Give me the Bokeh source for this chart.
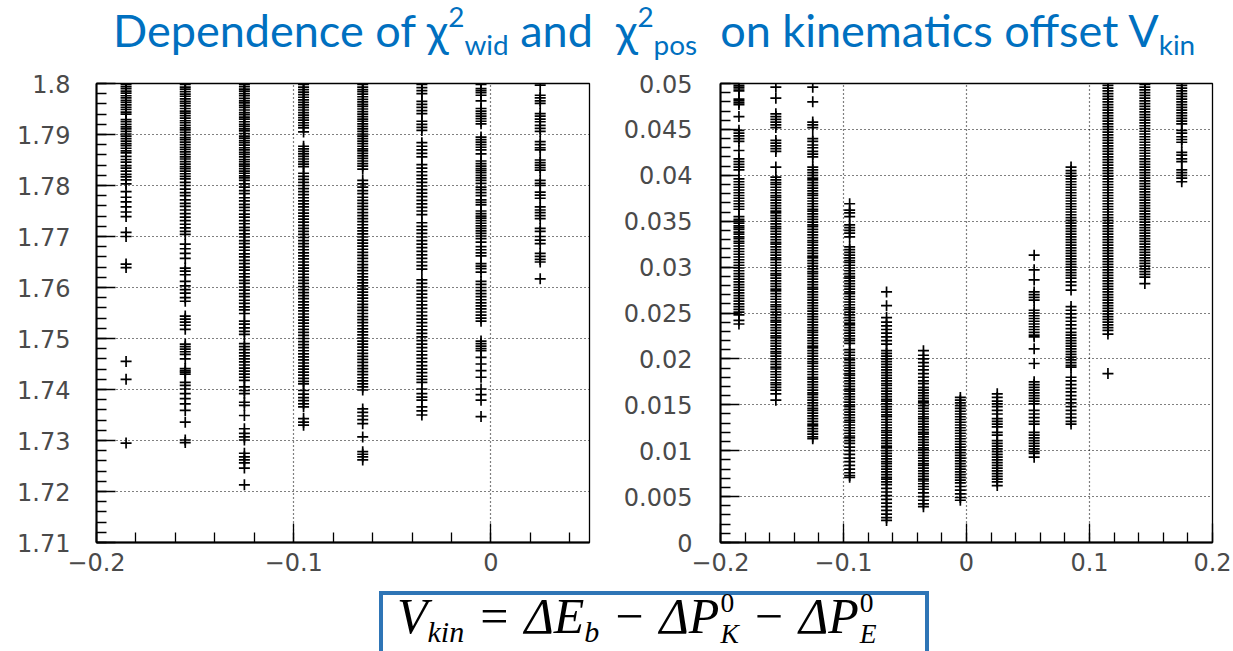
from bokeh.plotting import figure
from bokeh.models import FixedTicker, CustomJSTickFormatter, Div, Range1d
from bokeh.layouts import column, row
from bokeh.embed import file_html
from bokeh.resources import INLINE

# ---------------- data ----------------
vkin_wid = [-0.185, -0.155, -0.125, -0.095, -0.065, -0.035, -0.005, 0.025]
vkin_pos = [-0.185, -0.155, -0.125, -0.095, -0.065, -0.035, -0.005, 0.025,
            0.055, 0.085, 0.115, 0.145, 0.175]

wid_x_ticks = [-0.2, -0.1, 0.0]
wid_y_ticks = [1.71, 1.72, 1.73, 1.74, 1.75, 1.76, 1.77, 1.78, 1.79, 1.80]
pos_x_ticks = [-0.2, -0.1, 0.0, 0.1, 0.2]
pos_y_ticks = [0.0, 0.005, 0.01, 0.015, 0.02, 0.025, 0.03, 0.035, 0.04, 0.045, 0.05]

wid_a = [1.7998, 1.7994, 1.7990, 1.7985, 1.7981, 1.7976, 1.7972, 1.7967, 1.7963, 1.7958, 1.7953, 1.7949,
         1.7944, 1.7940, 1.7929, 1.7925, 1.7920, 1.7915, 1.7911, 1.7906, 1.7901, 1.7897, 1.7892, 1.7887,
         1.7882, 1.7878, 1.7873, 1.7868, 1.7864, 1.7857, 1.7851, 1.7846, 1.7839, 1.7834, 1.7828, 1.7822,
         1.7817, 1.7811, 1.7803, 1.7788, 1.7777, 1.7768, 1.7758, 1.7748, 1.7739, 1.7708, 1.7700, 1.7646,
         1.7639, 1.7455, 1.7420, 1.7295]
wid_b = [1.7998, 1.7993, 1.7989, 1.7984, 1.7979, 1.7975, 1.7970, 1.7965, 1.7961, 1.7956, 1.7951, 1.7946,
         1.7942, 1.7937, 1.7932, 1.7927, 1.7923, 1.7918, 1.7913, 1.7909, 1.7904, 1.7899, 1.7894, 1.7890,
         1.7885, 1.7880, 1.7875, 1.7871, 1.7866, 1.7861, 1.7856, 1.7852, 1.7847, 1.7842, 1.7837, 1.7833,
         1.7828, 1.7823, 1.7818, 1.7813, 1.7806, 1.7800, 1.7793, 1.7786, 1.7780, 1.7772, 1.7765, 1.7759,
         1.7752, 1.7745, 1.7738, 1.7731, 1.7724, 1.7717, 1.7710, 1.7704, 1.7685, 1.7676, 1.7667, 1.7657,
         1.7638, 1.7632, 1.7625, 1.7612, 1.7603, 1.7596, 1.7589, 1.7580, 1.7573, 1.7544, 1.7538, 1.7532,
         1.7526, 1.7518, 1.7489, 1.7484, 1.7479, 1.7474, 1.7469, 1.7460, 1.7441, 1.7437, 1.7434, 1.7430,
         1.7414, 1.7408, 1.7401, 1.7392, 1.7382, 1.7372, 1.7359, 1.7336, 1.7301, 1.7296]
wid_c = [1.7998, 1.7994, 1.7989, 1.7985, 1.7980, 1.7976, 1.7971, 1.7966, 1.7962, 1.7957, 1.7953, 1.7948,
         1.7943, 1.7939, 1.7934, 1.7930, 1.7925, 1.7920, 1.7916, 1.7911, 1.7907, 1.7902, 1.7897, 1.7893,
         1.7888, 1.7884, 1.7879, 1.7874, 1.7870, 1.7865, 1.7861, 1.7856, 1.7851, 1.7847, 1.7842, 1.7838,
         1.7833, 1.7828, 1.7824, 1.7819, 1.7815, 1.7810, 1.7803, 1.7797, 1.7790, 1.7784, 1.7776, 1.7770,
         1.7763, 1.7757, 1.7751, 1.7744, 1.7738, 1.7731, 1.7725, 1.7718, 1.7712, 1.7705, 1.7699, 1.7692,
         1.7686, 1.7679, 1.7673, 1.7666, 1.7660, 1.7653, 1.7647, 1.7640, 1.7634, 1.7627, 1.7621, 1.7614,
         1.7608, 1.7601, 1.7595, 1.7588, 1.7582, 1.7575, 1.7569, 1.7562, 1.7556, 1.7549, 1.7534, 1.7528,
         1.7521, 1.7514, 1.7508, 1.7490, 1.7484, 1.7478, 1.7472, 1.7466, 1.7460, 1.7454, 1.7448, 1.7442,
         1.7436, 1.7430, 1.7424, 1.7418, 1.7405, 1.7398, 1.7392, 1.7375, 1.7369, 1.7349, 1.7323, 1.7314,
         1.7307, 1.7301, 1.7275, 1.7268, 1.7262, 1.7256, 1.7246, 1.7213]
wid_d = [1.7998, 1.7993, 1.7988, 1.7983, 1.7978, 1.7973, 1.7968, 1.7963, 1.7958, 1.7953, 1.7948, 1.7943,
         1.7938, 1.7933, 1.7928, 1.7923, 1.7918, 1.7913, 1.7905, 1.7877, 1.7872, 1.7867, 1.7862, 1.7857,
         1.7852, 1.7847, 1.7842, 1.7837, 1.7824, 1.7818, 1.7812, 1.7806, 1.7800, 1.7794, 1.7788, 1.7782,
         1.7776, 1.7770, 1.7764, 1.7758, 1.7752, 1.7746, 1.7740, 1.7734, 1.7728, 1.7722, 1.7716, 1.7710,
         1.7704, 1.7698, 1.7692, 1.7686, 1.7680, 1.7674, 1.7668, 1.7662, 1.7656, 1.7650, 1.7644, 1.7638,
         1.7632, 1.7626, 1.7620, 1.7614, 1.7608, 1.7602, 1.7596, 1.7590, 1.7584, 1.7578, 1.7572, 1.7566,
         1.7560, 1.7554, 1.7548, 1.7542, 1.7536, 1.7530, 1.7524, 1.7518, 1.7512, 1.7506, 1.7500, 1.7494,
         1.7488, 1.7482, 1.7476, 1.7470, 1.7464, 1.7458, 1.7452, 1.7446, 1.7440, 1.7434, 1.7428, 1.7422,
         1.7416, 1.7411, 1.7398, 1.7391, 1.7384, 1.7378, 1.7372, 1.7366, 1.7343, 1.7336, 1.7330]
wid_e = [1.7998, 1.7993, 1.7988, 1.7984, 1.7979, 1.7974, 1.7969, 1.7964, 1.7959, 1.7955, 1.7950, 1.7945,
         1.7940, 1.7935, 1.7930, 1.7926, 1.7921, 1.7916, 1.7911, 1.7906, 1.7901, 1.7897, 1.7892, 1.7887,
         1.7882, 1.7877, 1.7872, 1.7868, 1.7863, 1.7858, 1.7853, 1.7848, 1.7843, 1.7838, 1.7832, 1.7810,
         1.7803, 1.7797, 1.7790, 1.7784, 1.7777, 1.7771, 1.7765, 1.7759, 1.7753, 1.7747, 1.7741, 1.7735,
         1.7729, 1.7723, 1.7717, 1.7711, 1.7705, 1.7699, 1.7693, 1.7687, 1.7681, 1.7675, 1.7669, 1.7663,
         1.7657, 1.7651, 1.7645, 1.7639, 1.7633, 1.7627, 1.7621, 1.7615, 1.7609, 1.7603, 1.7597, 1.7591,
         1.7585, 1.7579, 1.7573, 1.7567, 1.7561, 1.7555, 1.7549, 1.7543, 1.7537, 1.7531, 1.7525, 1.7519,
         1.7513, 1.7507, 1.7501, 1.7495, 1.7489, 1.7483, 1.7477, 1.7471, 1.7465, 1.7459, 1.7453, 1.7447,
         1.7441, 1.7435, 1.7429, 1.7423, 1.7417, 1.7411, 1.7405, 1.7399, 1.7362, 1.7355, 1.7348, 1.7341,
         1.7333, 1.7307, 1.7278, 1.7273, 1.7268, 1.7262]
wid_f = [1.7998, 1.7992, 1.7986, 1.7980, 1.7965, 1.7959, 1.7953, 1.7947, 1.7941, 1.7926, 1.7920, 1.7914,
         1.7908, 1.7884, 1.7877, 1.7870, 1.7863, 1.7856, 1.7841, 1.7834, 1.7827, 1.7820, 1.7813, 1.7806,
         1.7799, 1.7792, 1.7785, 1.7778, 1.7771, 1.7764, 1.7757, 1.7750, 1.7743, 1.7727, 1.7720, 1.7713,
         1.7706, 1.7699, 1.7692, 1.7685, 1.7678, 1.7671, 1.7664, 1.7657, 1.7650, 1.7643, 1.7636, 1.7615,
         1.7608, 1.7601, 1.7594, 1.7587, 1.7580, 1.7573, 1.7566, 1.7559, 1.7552, 1.7545, 1.7538, 1.7531,
         1.7524, 1.7517, 1.7510, 1.7503, 1.7496, 1.7489, 1.7482, 1.7475, 1.7468, 1.7461, 1.7454, 1.7447,
         1.7440, 1.7433, 1.7426, 1.7420, 1.7414, 1.7401, 1.7392, 1.7385, 1.7379, 1.7366, 1.7358, 1.7350]
wid_g = [1.7998, 1.7990, 1.7986, 1.7982, 1.7977, 1.7966, 1.7951, 1.7946, 1.7941, 1.7936, 1.7931, 1.7926,
         1.7921, 1.7895, 1.7890, 1.7885, 1.7880, 1.7875, 1.7870, 1.7862, 1.7848, 1.7843, 1.7838, 1.7833,
         1.7829, 1.7825, 1.7820, 1.7815, 1.7810, 1.7804, 1.7797, 1.7792, 1.7786, 1.7780, 1.7772, 1.7767,
         1.7762, 1.7750, 1.7745, 1.7740, 1.7736, 1.7731, 1.7726, 1.7721, 1.7716, 1.7711, 1.7706, 1.7701,
         1.7696, 1.7689, 1.7680, 1.7674, 1.7668, 1.7662, 1.7647, 1.7642, 1.7637, 1.7630, 1.7612, 1.7606,
         1.7600, 1.7594, 1.7588, 1.7582, 1.7576, 1.7570, 1.7564, 1.7558, 1.7552, 1.7546, 1.7540, 1.7534,
         1.7495, 1.7490, 1.7485, 1.7480, 1.7476, 1.7463, 1.7450, 1.7437, 1.7424, 1.7401, 1.7390, 1.7379,
         1.7347]
wid_h = [1.7997, 1.7977, 1.7972, 1.7966, 1.7961, 1.7941, 1.7936, 1.7930, 1.7925, 1.7918, 1.7912, 1.7906,
         1.7886, 1.7880, 1.7874, 1.7870, 1.7850, 1.7845, 1.7840, 1.7835, 1.7830, 1.7810, 1.7804, 1.7800,
         1.7787, 1.7781, 1.7775, 1.7758, 1.7752, 1.7747, 1.7741, 1.7735, 1.7716, 1.7710, 1.7700, 1.7693,
         1.7686, 1.7667, 1.7661, 1.7655, 1.7650, 1.7617]

pos_a = [0.0498, 0.0496, 0.0494, 0.0492, 0.0483, 0.0481, 0.0479, 0.0477, 0.0464, 0.0449, 0.0446, 0.0443,
         0.0440, 0.0437, 0.0427, 0.0418, 0.0415, 0.0412, 0.0409, 0.0406, 0.0396, 0.0393, 0.0390, 0.0387,
         0.0384, 0.0381, 0.0378, 0.0375, 0.0372, 0.0369, 0.0366, 0.0363, 0.0355, 0.0352, 0.0350, 0.0348,
         0.0345, 0.0343, 0.0341, 0.0338, 0.0336, 0.0333, 0.0331, 0.0328, 0.0326, 0.0323, 0.0320, 0.0317,
         0.0314, 0.0311, 0.0308, 0.0305, 0.0302, 0.0299, 0.0296, 0.0293, 0.0290, 0.0287, 0.0284, 0.0281,
         0.0278, 0.0275, 0.0272, 0.0269, 0.0266, 0.0263, 0.0260, 0.0257, 0.0254, 0.0251, 0.0248, 0.0242,
         0.0238]
pos_b = [0.0496, 0.0484, 0.0467, 0.0464, 0.0461, 0.0458, 0.0455, 0.0452, 0.0438, 0.0435, 0.0432, 0.0429,
         0.0426, 0.0409, 0.0398, 0.0395, 0.0392, 0.0390, 0.0387, 0.0384, 0.0381, 0.0378, 0.0376, 0.0373,
         0.0370, 0.0367, 0.0364, 0.0361, 0.0359, 0.0356, 0.0353, 0.0350, 0.0347, 0.0344, 0.0342, 0.0339,
         0.0336, 0.0333, 0.0330, 0.0327, 0.0325, 0.0322, 0.0319, 0.0316, 0.0313, 0.0310, 0.0308, 0.0305,
         0.0302, 0.0299, 0.0296, 0.0293, 0.0291, 0.0288, 0.0285, 0.0282, 0.0279, 0.0276, 0.0274, 0.0271,
         0.0268, 0.0265, 0.0262, 0.0259, 0.0257, 0.0254, 0.0251, 0.0248, 0.0245, 0.0242, 0.0240, 0.0237,
         0.0234, 0.0231, 0.0228, 0.0225, 0.0223, 0.0220, 0.0217, 0.0214, 0.0211, 0.0208, 0.0206, 0.0203,
         0.0200, 0.0197, 0.0194, 0.0191, 0.0189, 0.0186, 0.0183, 0.0180, 0.0177, 0.0174, 0.0172, 0.0169,
         0.0166, 0.0162, 0.0155]
pos_c = [0.0496, 0.0480, 0.0458, 0.0455, 0.0452, 0.0440, 0.0437, 0.0433, 0.0430, 0.0426, 0.0423, 0.0420,
         0.0409, 0.0406, 0.0403, 0.0400, 0.0397, 0.0395, 0.0392, 0.0389, 0.0386, 0.0383, 0.0380, 0.0378,
         0.0375, 0.0372, 0.0369, 0.0366, 0.0363, 0.0361, 0.0358, 0.0355, 0.0352, 0.0349, 0.0346, 0.0344,
         0.0341, 0.0338, 0.0335, 0.0332, 0.0329, 0.0327, 0.0324, 0.0321, 0.0318, 0.0315, 0.0312, 0.0310,
         0.0307, 0.0304, 0.0301, 0.0298, 0.0295, 0.0293, 0.0290, 0.0287, 0.0284, 0.0281, 0.0278, 0.0276,
         0.0273, 0.0270, 0.0267, 0.0264, 0.0261, 0.0258, 0.0255, 0.0252, 0.0249, 0.0246, 0.0243, 0.0240,
         0.0237, 0.0234, 0.0231, 0.0229, 0.0226, 0.0223, 0.0220, 0.0217, 0.0214, 0.0212, 0.0209, 0.0206,
         0.0203, 0.0200, 0.0197, 0.0195, 0.0192, 0.0189, 0.0186, 0.0183, 0.0180, 0.0178, 0.0175, 0.0172,
         0.0169, 0.0166, 0.0163, 0.0161, 0.0158, 0.0155, 0.0152, 0.0149, 0.0146, 0.0144, 0.0141, 0.0138,
         0.0135, 0.0132, 0.0129, 0.0127, 0.0124, 0.0121, 0.0118, 0.0115, 0.0113]
pos_d = [0.0369, 0.0362, 0.0359, 0.0355, 0.0346, 0.0343, 0.0340, 0.0337, 0.0333, 0.0322, 0.0319, 0.0316,
         0.0313, 0.0310, 0.0307, 0.0305, 0.0302, 0.0299, 0.0296, 0.0293, 0.0290, 0.0288, 0.0285, 0.0282,
         0.0279, 0.0276, 0.0273, 0.0271, 0.0268, 0.0265, 0.0262, 0.0259, 0.0256, 0.0254, 0.0251, 0.0248,
         0.0245, 0.0242, 0.0239, 0.0237, 0.0234, 0.0231, 0.0228, 0.0225, 0.0222, 0.0220, 0.0217, 0.0210,
         0.0207, 0.0204, 0.0201, 0.0199, 0.0196, 0.0193, 0.0190, 0.0187, 0.0184, 0.0182, 0.0179, 0.0176,
         0.0173, 0.0170, 0.0167, 0.0165, 0.0162, 0.0159, 0.0156, 0.0153, 0.0150, 0.0148, 0.0145, 0.0142,
         0.0139, 0.0136, 0.0133, 0.0131, 0.0128, 0.0125, 0.0122, 0.0119, 0.0116, 0.0114, 0.0111, 0.0108,
         0.0104, 0.0100, 0.0096, 0.0092, 0.0088, 0.0084, 0.0080, 0.0076, 0.0073, 0.0071]
pos_e = [0.0273, 0.0258, 0.0245, 0.0240, 0.0236, 0.0232, 0.0228, 0.0224, 0.0220, 0.0216, 0.0209, 0.0206,
         0.0203, 0.0200, 0.0197, 0.0194, 0.0191, 0.0188, 0.0185, 0.0182, 0.0179, 0.0176, 0.0173, 0.0171,
         0.0168, 0.0165, 0.0162, 0.0159, 0.0156, 0.0154, 0.0151, 0.0148, 0.0145, 0.0142, 0.0139, 0.0137,
         0.0134, 0.0131, 0.0128, 0.0125, 0.0122, 0.0120, 0.0117, 0.0114, 0.0111, 0.0108, 0.0105, 0.0103,
         0.0100, 0.0097, 0.0094, 0.0091, 0.0088, 0.0086, 0.0083, 0.0080, 0.0077, 0.0074, 0.0071, 0.0069,
         0.0066, 0.0063, 0.0059, 0.0055, 0.0051, 0.0047, 0.0043, 0.0039, 0.0035, 0.0031, 0.0027, 0.0024]
pos_f = [0.0209, 0.0204, 0.0200, 0.0196, 0.0192, 0.0188, 0.0184, 0.0180, 0.0176, 0.0173, 0.0169, 0.0166,
         0.0163, 0.0160, 0.0157, 0.0154, 0.0152, 0.0149, 0.0146, 0.0143, 0.0140, 0.0137, 0.0135, 0.0132,
         0.0129, 0.0126, 0.0123, 0.0120, 0.0118, 0.0115, 0.0112, 0.0109, 0.0106, 0.0103, 0.0101, 0.0098,
         0.0095, 0.0092, 0.0089, 0.0086, 0.0084, 0.0081, 0.0078, 0.0075, 0.0072, 0.0069, 0.0067, 0.0064,
         0.0061, 0.0058, 0.0054, 0.0050, 0.0046, 0.0042, 0.0039]
pos_g = [0.0158, 0.0155, 0.0152, 0.0149, 0.0146, 0.0143, 0.0140, 0.0137, 0.0134, 0.0131, 0.0128, 0.0125,
         0.0122, 0.0119, 0.0116, 0.0113, 0.0110, 0.0107, 0.0104, 0.0101, 0.0098, 0.0095, 0.0092, 0.0089,
         0.0086, 0.0083, 0.0080, 0.0077, 0.0074, 0.0071, 0.0068, 0.0065, 0.0061, 0.0057, 0.0053, 0.0049,
         0.0046]
pos_h = [0.0162, 0.0158, 0.0154, 0.0151, 0.0148, 0.0144, 0.0140, 0.0135, 0.0132, 0.0129, 0.0126, 0.0120,
         0.0117, 0.0111, 0.0108, 0.0105, 0.0102, 0.0099, 0.0096, 0.0093, 0.0090, 0.0087, 0.0084, 0.0081,
         0.0078, 0.0075, 0.0072, 0.0069, 0.0066, 0.0062]
pos_i = [0.0313, 0.0297, 0.0286, 0.0273, 0.0270, 0.0267, 0.0264, 0.0253, 0.0250, 0.0247, 0.0244, 0.0241,
         0.0238, 0.0235, 0.0232, 0.0229, 0.0226, 0.0224, 0.0211, 0.0195, 0.0175, 0.0172, 0.0169, 0.0166,
         0.0163, 0.0160, 0.0157, 0.0154, 0.0151, 0.0144, 0.0140, 0.0136, 0.0132, 0.0129, 0.0120, 0.0117,
         0.0114, 0.0111, 0.0108, 0.0105, 0.0102, 0.0099, 0.0097, 0.0093]
pos_j = [0.0409, 0.0405, 0.0402, 0.0399, 0.0396, 0.0393, 0.0390, 0.0387, 0.0384, 0.0381, 0.0378, 0.0375,
         0.0372, 0.0369, 0.0366, 0.0363, 0.0360, 0.0357, 0.0354, 0.0351, 0.0348, 0.0345, 0.0342, 0.0339,
         0.0336, 0.0333, 0.0330, 0.0327, 0.0324, 0.0321, 0.0318, 0.0315, 0.0312, 0.0309, 0.0306, 0.0303,
         0.0300, 0.0297, 0.0294, 0.0291, 0.0288, 0.0284, 0.0280, 0.0275, 0.0257, 0.0253, 0.0249, 0.0245,
         0.0241, 0.0237, 0.0233, 0.0229, 0.0226, 0.0223, 0.0220, 0.0217, 0.0214, 0.0211, 0.0208, 0.0205,
         0.0202, 0.0199, 0.0196, 0.0193, 0.0191, 0.0180, 0.0176, 0.0172, 0.0168, 0.0164, 0.0160, 0.0156,
         0.0152, 0.0148, 0.0144, 0.0140, 0.0136, 0.0132, 0.0129]
pos_k = [0.0498, 0.0495, 0.0492, 0.0489, 0.0486, 0.0483, 0.0480, 0.0477, 0.0474, 0.0471, 0.0468, 0.0465,
         0.0462, 0.0459, 0.0456, 0.0453, 0.0450, 0.0447, 0.0444, 0.0441, 0.0438, 0.0435, 0.0432, 0.0429,
         0.0426, 0.0423, 0.0420, 0.0417, 0.0414, 0.0411, 0.0408, 0.0405, 0.0402, 0.0399, 0.0396, 0.0393,
         0.0390, 0.0387, 0.0384, 0.0381, 0.0378, 0.0375, 0.0372, 0.0369, 0.0366, 0.0363, 0.0360, 0.0357,
         0.0354, 0.0351, 0.0348, 0.0345, 0.0342, 0.0339, 0.0336, 0.0333, 0.0330, 0.0327, 0.0324, 0.0321,
         0.0318, 0.0315, 0.0312, 0.0309, 0.0306, 0.0303, 0.0300, 0.0297, 0.0294, 0.0291, 0.0288, 0.0285,
         0.0282, 0.0279, 0.0276, 0.0273, 0.0270, 0.0267, 0.0264, 0.0261, 0.0258, 0.0255, 0.0252, 0.0249,
         0.0246, 0.0243, 0.0240, 0.0237, 0.0234, 0.0231, 0.0227, 0.0184]
pos_l = [0.0499, 0.0496, 0.0493, 0.0490, 0.0487, 0.0484, 0.0481, 0.0478, 0.0475, 0.0472, 0.0469, 0.0466,
         0.0463, 0.0460, 0.0457, 0.0454, 0.0451, 0.0448, 0.0445, 0.0442, 0.0439, 0.0436, 0.0433, 0.0430,
         0.0427, 0.0424, 0.0421, 0.0418, 0.0415, 0.0412, 0.0409, 0.0406, 0.0403, 0.0400, 0.0397, 0.0394,
         0.0391, 0.0388, 0.0385, 0.0382, 0.0379, 0.0376, 0.0373, 0.0370, 0.0367, 0.0364, 0.0361, 0.0358,
         0.0355, 0.0352, 0.0349, 0.0346, 0.0343, 0.0340, 0.0337, 0.0334, 0.0331, 0.0328, 0.0325, 0.0322,
         0.0319, 0.0316, 0.0313, 0.0310, 0.0307, 0.0304, 0.0301, 0.0298, 0.0295, 0.0292, 0.0289, 0.0282]
pos_m = [0.0498, 0.0495, 0.0492, 0.0489, 0.0486, 0.0483, 0.0480, 0.0477, 0.0474, 0.0471, 0.0468, 0.0465,
         0.0462, 0.0459, 0.0456, 0.0449, 0.0446, 0.0442, 0.0439, 0.0436, 0.0425, 0.0422, 0.0418, 0.0415,
         0.0406, 0.0403, 0.0400, 0.0397, 0.0393]

wid_columns = [wid_a, wid_b, wid_c, wid_d, wid_e, wid_f, wid_g, wid_h]
pos_columns = [pos_a, pos_b, pos_c, pos_d, pos_e, pos_f, pos_g, pos_h, pos_i, pos_j, pos_k, pos_l, pos_m]

# ---------------- drawing ----------------
TICK_JS = """
const v = Math.round(tick * 100000) / 100000;
return String(v).replace("-", "\u2212");
"""
TICK_FONT = "DejaVu Sans"


def panel(xs, cols, xr, yr, xt, xminor, yt, yminor, width, left, right, ystand):
    p = figure(width=width, height=520, x_range=Range1d(*xr), y_range=Range1d(*yr),
               output_backend="svg", toolbar_location=None,
               min_border_left=left, min_border_right=right,
               min_border_top=13, min_border_bottom=48)
    px, py = [], []
    for x, ys in zip(xs, cols):
        px.extend([x] * len(ys))
        py.extend(ys)
    p.scatter(x=px, y=py, marker="cross", size=11, line_color="black", line_width=1.7)

    p.xaxis.ticker = FixedTicker(ticks=xt, minor_ticks=xminor)
    p.yaxis.ticker = FixedTicker(ticks=yt, minor_ticks=yminor)
    p.xgrid.ticker = FixedTicker(ticks=xt)
    p.ygrid.ticker = FixedTicker(ticks=yt)
    for g in (p.xgrid[0], p.ygrid[0]):
        g.grid_line_color = "black"
        g.grid_line_dash = "1 3"
        g.grid_line_width = 1.2
        g.grid_line_alpha = 1.0
    fmt = CustomJSTickFormatter(code=TICK_JS)
    for ax in (p.xaxis[0], p.yaxis[0]):
        ax.formatter = fmt
        ax.major_tick_in = 19
        ax.major_tick_out = 0
        ax.minor_tick_in = 10
        ax.minor_tick_out = 0
        ax.axis_line_color = "black"
        ax.axis_line_width = 2
        ax.major_tick_line_color = "black"
        ax.major_tick_line_width = 1.3
        ax.minor_tick_line_color = "black"
        ax.minor_tick_line_width = 1.3
        ax.major_label_text_font = TICK_FONT
        ax.major_label_text_font_size = "24px"
        ax.major_label_text_color = "#4a4a4a"
    p.xaxis.major_label_standoff = 10
    p.yaxis.major_label_standoff = ystand
    p.outline_line_color = "black"
    p.outline_line_width = 1.3
    p.outline_line_alpha = 1
    return p


wid_x_minor = [round(-0.2 + 0.02 * i, 3) for i in range(13)]
wid_y_minor = [round(1.71 + 0.002 * i, 4) for i in range(46)]
pos_x_minor = [round(-0.2 + 0.02 * i, 3) for i in range(21)]
pos_y_minor = [round(0.001 * i, 4) for i in range(51)]

p1 = panel(vkin_wid, wid_columns, (-0.2, 0.05), (1.71, 1.80), wid_x_ticks, wid_x_minor,
           wid_y_ticks, wid_y_minor, 620, 96, 31, 26)
p2 = panel(vkin_pos, pos_columns, (-0.2, 0.2), (0.0, 0.05), pos_x_ticks, pos_x_minor,
           pos_y_ticks, pos_y_minor, 613, 100, 21, 28)

sup = '<span style="font-size:0.62em;position:relative;top:-0.72em">2</span>'
sub = '<span style="font-size:0.62em;position:relative;top:0.3em">{}</span>'
title_html = (
    'Dependence of \u03c7' + sup + sub.format('wid') +
    ' and&nbsp; \u03c7' + sup + sub.format('pos') +
    '&nbsp; on kinematics offset V' + sub.format('kin')
)
title = Div(text=title_html, width=1233, height=70, margin=(0, 0, 0, 0),
            styles={"font-family": "Lato, 'Open Sans', sans-serif", "font-size": "45px",
                    "color": "#0070C0", "white-space": "nowrap", "line-height": "1",
                    "padding-left": "113px", "padding-top": "8px", "box-sizing": "border-box"})

lsub = '<span style="font-size:0.6em;position:relative;top:0.3em">{}</span>'
stack = ('<span style="font-size:0.55em;position:relative;top:-0.75em;font-style:normal;margin-left:1px">0</span>'
         '<span style="font-size:0.55em;position:relative;top:0.38em;margin-left:-0.5em">{}</span>')
op = '<span style="font-style:normal;margin:0 0.32em">{}</span>'
formula_html = (
    'V' + lsub.format('kin') + op.format('=') +
    '\u0394E' + lsub.format('b') + op.format('\u2212') +
    '\u0394P' + stack.format('K') + op.format('\u2212') + '\u0394P' + stack.format('E')
)
formula = Div(text=formula_html, width=550, height=60, margin=(1, 0, 0, 379),
              styles={"font-family": "'Liberation Serif', 'DejaVu Serif', serif", "font-style": "italic",
                      "font-size": "50px", "color": "black", "white-space": "nowrap",
                      "border": "4px solid #2E75B6", "border-bottom": "none",
                      "box-sizing": "border-box", "padding-left": "14px", "padding-top": "0px",
                      "line-height": "0.85"})

layout = column(title, row(p1, p2, spacing=0), formula, spacing=0)

open("out.html", "w").write(file_html(layout, INLINE))
